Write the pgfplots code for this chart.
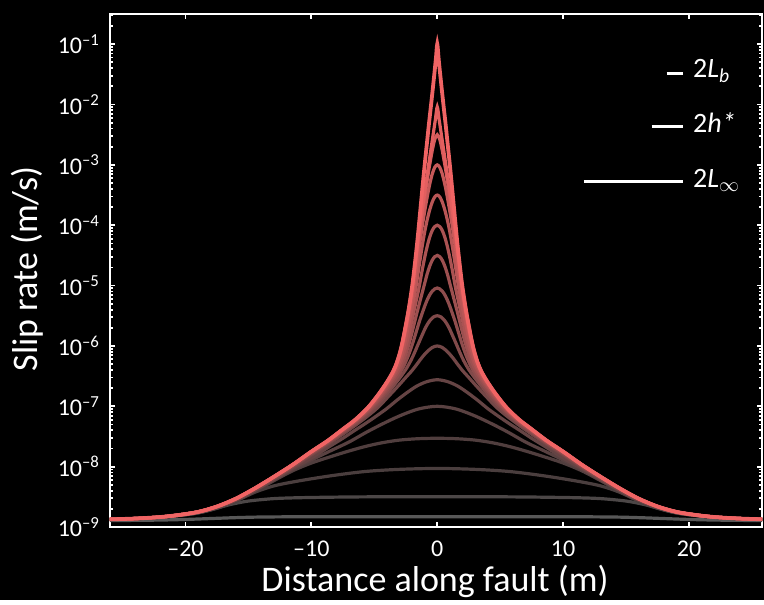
\documentclass[border=0pt]{standalone}
\usepackage{fontspec}
\setmainfont{Carlito}
\usepackage{pgfplots}
\pgfplotsset{compat=1.18}
% colours: grey (slow, early) to salmon (fast, late)
\definecolor{s1}{HTML}{585858}
\definecolor{s2}{HTML}{4C4747}
\definecolor{s3}{HTML}{4A3E3E}
\definecolor{s4}{HTML}{503E3E}
\definecolor{s5}{HTML}{594141}
\definecolor{s6}{HTML}{654444}
\definecolor{s7}{HTML}{734747}
\definecolor{s8}{HTML}{814A4A}
\definecolor{s9}{HTML}{8F4D4D}
\definecolor{s10}{HTML}{9D5050}
\definecolor{s11}{HTML}{AB5353}
\definecolor{s12}{HTML}{B95656}
\definecolor{s13}{HTML}{C75959}
\definecolor{s14}{HTML}{D55C5C}
\definecolor{s15}{HTML}{E35F5F}
\definecolor{s16}{HTML}{F06464}

\begin{document}
\begin{tikzpicture}
\fill[black] (-55bp,-36.5bp) rectangle (327bp,263.5bp);
\begin{axis}[
  at={(0,0)}, anchor=south west,
  scale only axis, width=326bp, height=256.5bp,
  xmin=-26, xmax=25.8, ymin=-9, ymax=-0.5,
  axis line style={white, line width=1.4bp},
  tick style={white, line width=0.9bp},
  major tick length=2.6bp, minor tick length=1.3bp,
  tick align=inside,
  xtick={-20,-10,0,10,20},
  xticklabels={\textendash20,\textendash10,0,10,20},
  ytick={-9,-8,-7,-6,-5,-4,-3,-2,-1},
  yticklabels={10\textsuperscript{\textendash9},10\textsuperscript{\textendash8},10\textsuperscript{\textendash7},10\textsuperscript{\textendash6},10\textsuperscript{\textendash5},10\textsuperscript{\textendash4},10\textsuperscript{\textendash3},10\textsuperscript{\textendash2},10\textsuperscript{\textendash1}},
  minor ytick={-8.699,-8.523,-8.398,-8.301,-8.222,-8.155,-8.097,-8.046,-7.699,-7.523,-7.398,-7.301,-7.222,-7.155,-7.097,-7.046,-6.699,-6.523,-6.398,-6.301,-6.222,-6.155,-6.097,-6.046,-5.699,-5.523,-5.398,-5.301,-5.222,-5.155,-5.097,-5.046,-4.699,-4.523,-4.398,-4.301,-4.222,-4.155,-4.097,-4.046,-3.699,-3.523,-3.398,-3.301,-3.222,-3.155,-3.097,-3.046,-2.699,-2.523,-2.398,-2.301,-2.222,-2.155,-2.097,-2.046,-1.699,-1.523,-1.398,-1.301,-1.222,-1.155,-1.097,-1.046,-0.699,-0.523},
  tick label style={white, font=\fontsize{12bp}{14bp}\selectfont},
  xticklabel style={yshift=-3.5bp},
  yticklabel style={xshift=-1.5bp},
  every axis plot/.append style={smooth, tension=0.5, line width=1.6bp},
]
% y is log10 of slip rate (m/s)
\addplot[s1] coordinates {(-26.3,-8.895)(-24,-8.89)(-22,-8.885)(-20,-8.875)(-18,-8.86)(-16,-8.845)(-14,-8.835)(-10,-8.83)(0,-8.83)(10,-8.83)(14,-8.835)(16,-8.845)(18,-8.86)(20,-8.875)(22,-8.885)(24,-8.89)(26.3,-8.895)};
\addplot[s2] coordinates {(-26.3,-8.882)(-23,-8.852)(-21,-8.82)(-19.5,-8.785)(-18.5,-8.745)(-17.5,-8.69)(-16.5,-8.63)(-15,-8.57)(-13,-8.53)(-11,-8.515)(-8,-8.505)(-5,-8.5)(0,-8.5)(5,-8.5)(8,-8.505)(11,-8.515)(13,-8.53)(15,-8.57)(16.5,-8.63)(17.5,-8.69)(18.5,-8.745)(19.5,-8.785)(21,-8.82)(23,-8.852)(26.3,-8.882)};
\addplot[s3] coordinates {(-26.3,-8.879)(-24,-8.864)(-22,-8.84)(-20.5,-8.809)(-19,-8.765)(-17.5,-8.686)(-16,-8.57)(-14.5,-8.425)(-13,-8.32)(-11.1,-8.24)(-8.4,-8.15)(-5.7,-8.08)(-3,-8.045)(0,-8.03)(3,-8.045)(5.7,-8.08)(8.4,-8.15)(11.1,-8.24)(13,-8.32)(14.5,-8.425)(16,-8.57)(17.5,-8.686)(19,-8.765)(20.5,-8.809)(22,-8.84)(24,-8.864)(26.3,-8.879)};
\addplot[s4] coordinates {(-26.3,-8.878)(-24,-8.863)(-22,-8.839)(-20.5,-8.807)(-19,-8.762)(-17.5,-8.682)(-16,-8.562)(-14.5,-8.41)(-13,-8.235)(-11.5,-8.07)(-10,-7.94)(-8.4,-7.83)(-7,-7.74)(-5.7,-7.665)(-4.4,-7.605)(-3,-7.56)(-1.5,-7.537)(0,-7.53)(1.5,-7.537)(3,-7.56)(4.4,-7.605)(5.7,-7.665)(7,-7.74)(8.4,-7.83)(10,-7.94)(11.5,-8.07)(13,-8.235)(14.5,-8.41)(16,-8.562)(17.5,-8.682)(19,-8.762)(20.5,-8.807)(22,-8.839)(24,-8.863)(26.3,-8.878)};
\addplot[s5] coordinates {(-26.3,-8.877)(-24,-8.862)(-22,-8.838)(-20.5,-8.806)(-19,-8.76)(-17.5,-8.68)(-16,-8.558)(-14.5,-8.40)(-13,-8.225)(-11.5,-8.05)(-10,-7.89)(-8.4,-7.73)(-7,-7.591)(-5.7,-7.438)(-4.4,-7.297)(-3,-7.16)(-1.5,-7.045)(0,-7.0)(1.5,-7.045)(3,-7.16)(4.4,-7.297)(5.7,-7.438)(7,-7.591)(8.4,-7.73)(10,-7.89)(11.5,-8.05)(13,-8.225)(14.5,-8.40)(16,-8.558)(17.5,-8.68)(19,-8.76)(20.5,-8.806)(22,-8.838)(24,-8.862)(26.3,-8.877)};
\addplot[s6] coordinates {(-26.3,-8.875)(-24,-8.86)(-22,-8.835)(-20.5,-8.805)(-19,-8.757)(-17.5,-8.677)(-16,-8.555)(-14.5,-8.395)(-13,-8.215)(-11.5,-8.035)(-10,-7.857)(-8.7,-7.685)(-7.5,-7.53)(-6.5,-7.392)(-5.6,-7.271)(-4.8,-7.156)(-4,-7.036)(-3.2,-6.899)(-2.4,-6.773)(-1.6,-6.662)(-0.8,-6.59)(0,-6.56)(0.8,-6.59)(1.6,-6.662)(2.4,-6.773)(3.2,-6.899)(4,-7.036)(4.8,-7.156)(5.6,-7.271)(6.5,-7.392)(7.5,-7.53)(8.7,-7.685)(10,-7.857)(11.5,-8.035)(13,-8.215)(14.5,-8.395)(16,-8.555)(17.5,-8.677)(19,-8.757)(20.5,-8.805)(22,-8.835)(24,-8.86)(26.3,-8.875)};
\addplot[s7] coordinates {(-26.3,-8.875)(-24,-8.86)(-22,-8.835)(-20.5,-8.80)(-19,-8.75)(-17.5,-8.674)(-16,-8.552)(-14.5,-8.391)(-13,-8.209)(-11.5,-8.016)(-10,-7.808)(-8.7,-7.632)(-7.5,-7.462)(-6.5,-7.315)(-5.5,-7.158)(-4.66,-7.009)(-4,-6.864)(-3.5,-6.753)(-3,-6.639)(-2.5,-6.522)(-2,-6.406)(-1.6,-6.299)(-1.2,-6.187)(-0.8,-6.094)(-0.4,-6.026)(0,-6.0)(0.4,-6.026)(0.8,-6.094)(1.2,-6.187)(1.6,-6.299)(2,-6.406)(2.5,-6.522)(3,-6.639)(3.5,-6.753)(4,-6.864)(4.66,-7.009)(5.5,-7.158)(6.5,-7.315)(7.5,-7.462)(8.7,-7.632)(10,-7.808)(11.5,-8.016)(13,-8.209)(14.5,-8.391)(16,-8.552)(17.5,-8.674)(19,-8.75)(20.5,-8.80)(22,-8.835)(24,-8.86)(26.3,-8.875)};
\addplot[s8] coordinates {(-26.3,-8.875)(-24,-8.86)(-22,-8.835)(-20.5,-8.80)(-19,-8.75)(-17.5,-8.667)(-16,-8.54)(-14.5,-8.375)(-13,-8.197)(-11.5,-8.002)(-10,-7.79)(-8.7,-7.613)(-7.5,-7.437)(-6.5,-7.287)(-5.5,-7.117)(-4.66,-6.948)(-4,-6.796)(-3.5,-6.668)(-3,-6.535)(-2.5,-6.39)(-2.1,-6.243)(-1.8,-6.109)(-1.5,-5.963)(-1.2,-5.82)(-0.9,-5.684)(-0.6,-5.584)(-0.3,-5.521)(0,-5.5)(0.3,-5.521)(0.6,-5.584)(0.9,-5.684)(1.2,-5.82)(1.5,-5.963)(1.8,-6.109)(2.1,-6.243)(2.5,-6.39)(3,-6.535)(3.5,-6.668)(4,-6.796)(4.66,-6.948)(5.5,-7.117)(6.5,-7.287)(7.5,-7.437)(8.7,-7.613)(10,-7.79)(11.5,-8.002)(13,-8.197)(14.5,-8.375)(16,-8.54)(17.5,-8.667)(19,-8.75)(20.5,-8.80)(22,-8.835)(24,-8.86)(26.3,-8.875)};
\addplot[s9] coordinates {(-26.3,-8.875)(-24,-8.86)(-22,-8.835)(-20.5,-8.80)(-19,-8.75)(-17.5,-8.664)(-16,-8.535)(-14.5,-8.37)(-13,-8.185)(-11.5,-7.993)(-10,-7.779)(-8.7,-7.601)(-7.5,-7.421)(-6.5,-7.268)(-5.5,-7.09)(-4.66,-6.907)(-4,-6.742)(-3.5,-6.608)(-3,-6.457)(-2.65,-6.328)(-2.3,-6.161)(-2,-5.987)(-1.7,-5.786)(-1.45,-5.615)(-1.2,-5.46)(-1,-5.343)(-0.8,-5.238)(-0.6,-5.154)(-0.4,-5.093)(-0.2,-5.055)(0,-5.04)(0.2,-5.055)(0.4,-5.093)(0.6,-5.154)(0.8,-5.238)(1,-5.343)(1.2,-5.46)(1.45,-5.615)(1.7,-5.786)(2,-5.987)(2.3,-6.161)(2.65,-6.328)(3,-6.457)(3.5,-6.608)(4,-6.742)(4.66,-6.907)(5.5,-7.09)(6.5,-7.268)(7.5,-7.421)(8.7,-7.601)(10,-7.779)(11.5,-7.993)(13,-8.185)(14.5,-8.37)(16,-8.535)(17.5,-8.664)(19,-8.75)(20.5,-8.80)(22,-8.835)(24,-8.86)(26.3,-8.875)};
\addplot[s10] coordinates {(-26.3,-8.875)(-24,-8.86)(-22,-8.835)(-20.5,-8.80)(-19,-8.75)(-17.5,-8.662)(-16,-8.532)(-14.5,-8.365)(-13,-8.175)(-11.5,-7.98)(-10,-7.765)(-8.7,-7.592)(-7.5,-7.409)(-6.5,-7.254)(-5.5,-7.07)(-4.66,-6.876)(-4,-6.702)(-3.5,-6.556)(-3,-6.387)(-2.65,-6.223)(-2.3,-6.005)(-2,-5.771)(-1.7,-5.522)(-1.45,-5.319)(-1.2,-5.122)(-1,-4.963)(-0.8,-4.806)(-0.6,-4.678)(-0.4,-4.581)(-0.2,-4.521)(0,-4.5)(0.2,-4.521)(0.4,-4.581)(0.6,-4.678)(0.8,-4.806)(1,-4.963)(1.2,-5.122)(1.45,-5.319)(1.7,-5.522)(2,-5.771)(2.3,-6.005)(2.65,-6.223)(3,-6.387)(3.5,-6.556)(4,-6.702)(4.66,-6.876)(5.5,-7.07)(6.5,-7.254)(7.5,-7.409)(8.7,-7.592)(10,-7.765)(11.5,-7.98)(13,-8.175)(14.5,-8.365)(16,-8.532)(17.5,-8.662)(19,-8.75)(20.5,-8.80)(22,-8.835)(24,-8.86)(26.3,-8.875)};
\addplot[s11] coordinates {(-26.3,-8.875)(-24,-8.86)(-22,-8.835)(-20.5,-8.80)(-19,-8.75)(-17.5,-8.661)(-16,-8.531)(-14.5,-8.362)(-13,-8.172)(-11.5,-7.975)(-10,-7.757)(-8.7,-7.58)(-7.5,-7.399)(-6.5,-7.243)(-5.5,-7.053)(-4.66,-6.851)(-4,-6.668)(-3.5,-6.513)(-3,-6.318)(-2.65,-6.117)(-2.3,-5.844)(-2,-5.565)(-1.7,-5.278)(-1.45,-5.035)(-1.2,-4.748)(-1,-4.536)(-0.8,-4.35)(-0.6,-4.198)(-0.4,-4.087)(-0.2,-4.022)(0,-4.0)(0.2,-4.022)(0.4,-4.087)(0.6,-4.198)(0.8,-4.35)(1,-4.536)(1.2,-4.748)(1.45,-5.035)(1.7,-5.278)(2,-5.565)(2.3,-5.844)(2.65,-6.117)(3,-6.318)(3.5,-6.513)(4,-6.668)(4.66,-6.851)(5.5,-7.053)(6.5,-7.243)(7.5,-7.399)(8.7,-7.58)(10,-7.757)(11.5,-7.975)(13,-8.172)(14.5,-8.362)(16,-8.531)(17.5,-8.661)(19,-8.75)(20.5,-8.80)(22,-8.835)(24,-8.86)(26.3,-8.875)};
\addplot[s12] coordinates {(-26.3,-8.875)(-24,-8.86)(-22,-8.835)(-20.5,-8.80)(-19,-8.75)(-17.5,-8.66)(-16,-8.53)(-14.5,-8.361)(-13,-8.171)(-11.5,-7.972)(-10,-7.753)(-8.7,-7.575)(-7.5,-7.388)(-6.5,-7.23)(-5.5,-7.039)(-4.66,-6.83)(-4,-6.64)(-3.5,-6.474)(-3,-6.251)(-2.65,-6.006)(-2.3,-5.676)(-2,-5.368)(-1.7,-5.032)(-1.45,-4.686)(-1.2,-4.352)(-1,-4.112)(-0.8,-3.911)(-0.6,-3.746)(-0.4,-3.616)(-0.2,-3.53)(0,-3.5)(0.2,-3.53)(0.4,-3.616)(0.6,-3.746)(0.8,-3.911)(1,-4.112)(1.2,-4.352)(1.45,-4.686)(1.7,-5.032)(2,-5.368)(2.3,-5.676)(2.65,-6.006)(3,-6.251)(3.5,-6.474)(4,-6.64)(4.66,-6.83)(5.5,-7.039)(6.5,-7.23)(7.5,-7.388)(8.7,-7.575)(10,-7.753)(11.5,-7.972)(13,-8.171)(14.5,-8.361)(16,-8.53)(17.5,-8.66)(19,-8.75)(20.5,-8.80)(22,-8.835)(24,-8.86)(26.3,-8.875)};
\addplot[s13] coordinates {(-26.3,-8.875)(-24,-8.86)(-22,-8.835)(-20.5,-8.80)(-19,-8.75)(-17.5,-8.66)(-16,-8.53)(-14.5,-8.36)(-13,-8.17)(-11.5,-7.97)(-10,-7.75)(-8.7,-7.571)(-7.5,-7.382)(-6.5,-7.223)(-5.5,-7.025)(-4.66,-6.81)(-4,-6.618)(-3.5,-6.444)(-3,-6.184)(-2.65,-5.904)(-2.3,-5.541)(-2,-5.194)(-1.7,-4.775)(-1.45,-4.387)(-1.2,-4.026)(-1,-3.771)(-0.8,-3.533)(-0.6,-3.321)(-0.4,-3.152)(-0.2,-3.04)(0,-3.0)(0.2,-3.04)(0.4,-3.152)(0.6,-3.321)(0.8,-3.533)(1,-3.771)(1.2,-4.026)(1.45,-4.387)(1.7,-4.775)(2,-5.194)(2.3,-5.541)(2.65,-5.904)(3,-6.184)(3.5,-6.444)(4,-6.618)(4.66,-6.81)(5.5,-7.025)(6.5,-7.223)(7.5,-7.382)(8.7,-7.571)(10,-7.75)(11.5,-7.97)(13,-8.17)(14.5,-8.36)(16,-8.53)(17.5,-8.66)(19,-8.75)(20.5,-8.80)(22,-8.835)(24,-8.86)(26.3,-8.875)};
\addplot[s14] coordinates {(-26.3,-8.875)(-24,-8.86)(-22,-8.835)(-20.5,-8.80)(-19,-8.75)(-17.5,-8.66)(-16,-8.53)(-14.5,-8.36)(-13,-8.17)(-11.5,-7.97)(-10,-7.75)(-8.7,-7.57)(-7.5,-7.38)(-6.5,-7.221)(-5.5,-7.021)(-4.66,-6.802)(-4,-6.603)(-3.5,-6.425)(-3,-6.143)(-2.65,-5.839)(-2.3,-5.456)(-2,-5.084)(-1.7,-4.603)(-1.45,-4.192)(-1.2,-3.818)(-1,-3.531)(-0.8,-3.254)(-0.6,-2.998)(-0.4,-2.765)(-0.2,-2.579)(0,-2.5)(0.2,-2.579)(0.4,-2.765)(0.6,-2.998)(0.8,-3.254)(1,-3.531)(1.2,-3.818)(1.45,-4.192)(1.7,-4.603)(2,-5.084)(2.3,-5.456)(2.65,-5.839)(3,-6.143)(3.5,-6.425)(4,-6.603)(4.66,-6.802)(5.5,-7.021)(6.5,-7.221)(7.5,-7.38)(8.7,-7.57)(10,-7.75)(11.5,-7.97)(13,-8.17)(14.5,-8.36)(16,-8.53)(17.5,-8.66)(19,-8.75)(20.5,-8.80)(22,-8.835)(24,-8.86)(26.3,-8.875)};
\addplot[s15] coordinates {(-26.3,-8.875)(-24,-8.86)(-22,-8.835)(-20.5,-8.80)(-19,-8.75)(-17.5,-8.66)(-16,-8.53)(-14.5,-8.36)(-13,-8.17)(-11.5,-7.97)(-10,-7.75)(-8.7,-7.57)(-7.5,-7.38)(-6.5,-7.22)(-5.5,-7.02)(-4.66,-6.8)(-4,-6.6)(-3.5,-6.42)(-3.2,-6.27)(-2.9,-6.06)(-2.65,-5.82)(-2.3,-5.43)(-2,-5.05)(-1.8,-4.72)(-1.6,-4.38)(-1.45,-4.13)(-1.3,-3.9)(-1.15,-3.68)(-1,-3.45)(-0.8,-3.16)(-0.6,-2.88)(-0.45,-2.67)(-0.3,-2.46)(-0.15,-2.25)(0,-2.04)(0.15,-2.25)(0.3,-2.46)(0.45,-2.67)(0.6,-2.88)(0.8,-3.16)(1,-3.45)(1.15,-3.68)(1.3,-3.9)(1.45,-4.13)(1.6,-4.38)(1.8,-4.72)(2,-5.05)(2.3,-5.43)(2.65,-5.82)(2.9,-6.06)(3.2,-6.27)(3.5,-6.42)(4,-6.6)(4.66,-6.8)(5.5,-7.02)(6.5,-7.22)(7.5,-7.38)(8.7,-7.57)(10,-7.75)(11.5,-7.97)(13,-8.17)(14.5,-8.36)(16,-8.53)(17.5,-8.66)(19,-8.75)(20.5,-8.80)(22,-8.835)(24,-8.86)(26.3,-8.875)};
\addplot[s16, line width=1.9bp] coordinates {(-26.3,-8.875)(-24,-8.86)(-22,-8.835)(-20.5,-8.80)(-19,-8.75)(-17.5,-8.66)(-16,-8.53)(-14.5,-8.36)(-13,-8.17)(-11.5,-7.97)(-10,-7.75)(-8.7,-7.57)(-7.5,-7.38)(-6.5,-7.22)(-5.5,-7.02)(-4.66,-6.8)(-4,-6.6)(-3.5,-6.42)(-3.2,-6.27)(-2.9,-6.06)(-2.65,-5.82)(-2.3,-5.43)(-2,-5.02)(-1.8,-4.68)(-1.6,-4.3)(-1.45,-3.98)(-1.3,-3.65)(-1.15,-3.32)(-1,-3.0)(-0.8,-2.6)(-0.65,-2.3)(-0.5,-2.02)(-0.35,-1.73)(-0.2,-1.43)(-0.1,-1.22)(0,-1.0)(0.1,-1.22)(0.2,-1.43)(0.35,-1.73)(0.5,-2.02)(0.65,-2.3)(0.8,-2.6)(1,-3.0)(1.15,-3.32)(1.3,-3.65)(1.45,-3.98)(1.6,-4.3)(1.8,-4.68)(2,-5.02)(2.3,-5.43)(2.65,-5.82)(2.9,-6.06)(3.2,-6.27)(3.5,-6.42)(4,-6.6)(4.66,-6.8)(5.5,-7.02)(6.5,-7.22)(7.5,-7.38)(8.7,-7.57)(10,-7.75)(11.5,-7.97)(13,-8.17)(14.5,-8.36)(16,-8.53)(17.5,-8.66)(19,-8.75)(20.5,-8.80)(22,-8.835)(24,-8.86)(26.3,-8.875)};
% length-scale bars
\addplot[white, line width=1.5bp] coordinates {(18.23,-1.48)(19.5,-1.48)};
\addplot[white, line width=1.5bp] coordinates {(17.04,-2.37)(19.5,-2.37)};
\addplot[white, line width=1.5bp] coordinates {(11.64,-3.28)(19.5,-3.28)};
\node[white, anchor=base west, inner sep=0pt, font=\fontsize{14bp}{16bp}\selectfont] at (axis cs:20.3,-1.56) {2\textit{L}\textsubscript{\textit{b}}};
\node[white, anchor=base west, inner sep=0pt, font=\fontsize{14bp}{16bp}\selectfont] at (axis cs:20.3,-2.46) {2\textit{h*}};
\node[white, anchor=base west, inner sep=0pt, font=\fontsize{14bp}{16bp}\selectfont] at (axis cs:20.3,-3.37) {2\textit{L}\textsubscript{$\infty$}};
\end{axis}
\node[white, anchor=base, font=\fontsize{18bp}{20bp}\selectfont] at (162.5bp,-32.5bp) {Distance along fault (m)};
\node[white, anchor=base, rotate=90, font=\fontsize{18bp}{20bp}\selectfont] at (-36.5bp,129bp) {Slip rate (m/s)};
\end{tikzpicture}
\end{document}
